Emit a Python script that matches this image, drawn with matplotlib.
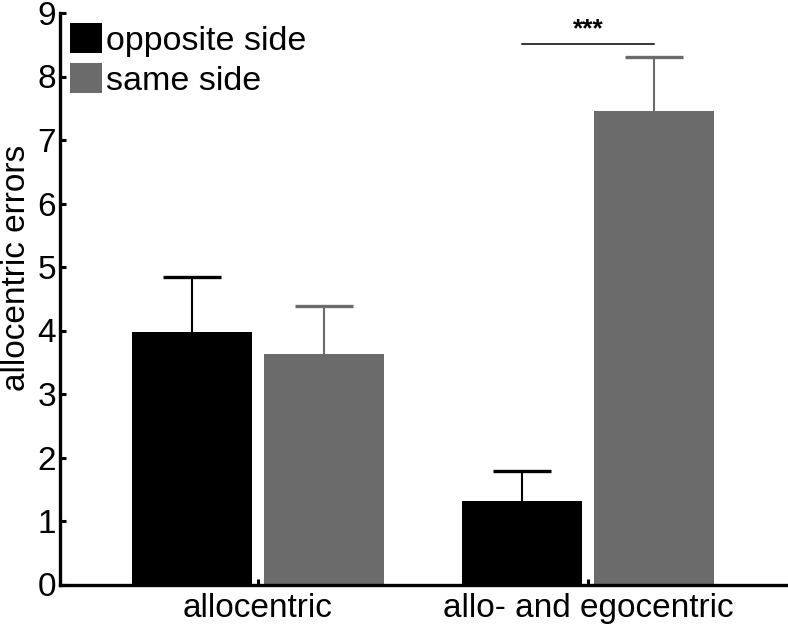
import matplotlib.pyplot as plt
import numpy as np

plt.rcParams['font.family'] = ['Liberation Sans', 'DejaVu Sans']

# Werte
gruppen = ['allocentric', 'allo- and egocentric']
gegenseite = [3.97, 1.32]
gegenseite_err = [0.88, 0.47]
gleiche_seite = [3.63, 7.46]
gleiche_seite_err = [0.76, 0.85]

schwarz = '#000000'
grau = '#6b6b6b'

fig = plt.figure(figsize=(7.88, 6.26), dpi=100)
ax = fig.add_axes([60/788, 41.5/626, 728/788, 571.5/626])

x = np.arange(1, len(gruppen) + 1)
off = 0.2
b = 0.364

# Fehlerbalken hinter den Balken, wie im Original
ax.errorbar(x - off, gegenseite, yerr=gegenseite_err, fmt='none', ecolor=schwarz,
            elinewidth=1.5, capsize=21, capthick=2.4, zorder=1)
ax.errorbar(x + off, gleiche_seite, yerr=gleiche_seite_err, fmt='none', ecolor=grau,
            elinewidth=1.5, capsize=21, capthick=2.4, zorder=1)
ax.bar(x - off, gegenseite, b, color=schwarz, label='opposite side', zorder=2)
ax.bar(x + off, gleiche_seite, b, color=grau, label='same side', zorder=2)

# Signifikanz
ax.plot([x[1] - off, x[1] + off], [8.51, 8.51], color='k', lw=1.1)
ax.text(x[1], 8.64, '***', ha='center', va='baseline', fontsize=19, fontweight='bold')

ax.set_xlim(0.4, 2.606)
ax.set_ylim(0, 9)
ax.set_yticks(range(10))
ax.set_xticks(x)
ax.set_xticklabels(gruppen)
ax.tick_params(direction='in', labelsize=24, length=4, width=2.2, pad=3)
ax.tick_params(axis='x', pad=6)

for s in ['top', 'right']:
    ax.spines[s].set_visible(False)
for s in ['left', 'bottom']:
    ax.spines[s].set_linewidth(2.4)

fig.text(17/788, 1 - 268/626, 'allocentric errors', rotation=90,
         ha='center', va='center', fontsize=24)

ax.legend(loc='upper left', bbox_to_anchor=(0.0, 1.0), frameon=False, fontsize=24.5,
          handlelength=0.93, handleheight=0.95, handletextpad=0.12,
          labelspacing=0.2, borderaxespad=0.1, borderpad=0.2)

fig.savefig('out.png', dpi=100)
